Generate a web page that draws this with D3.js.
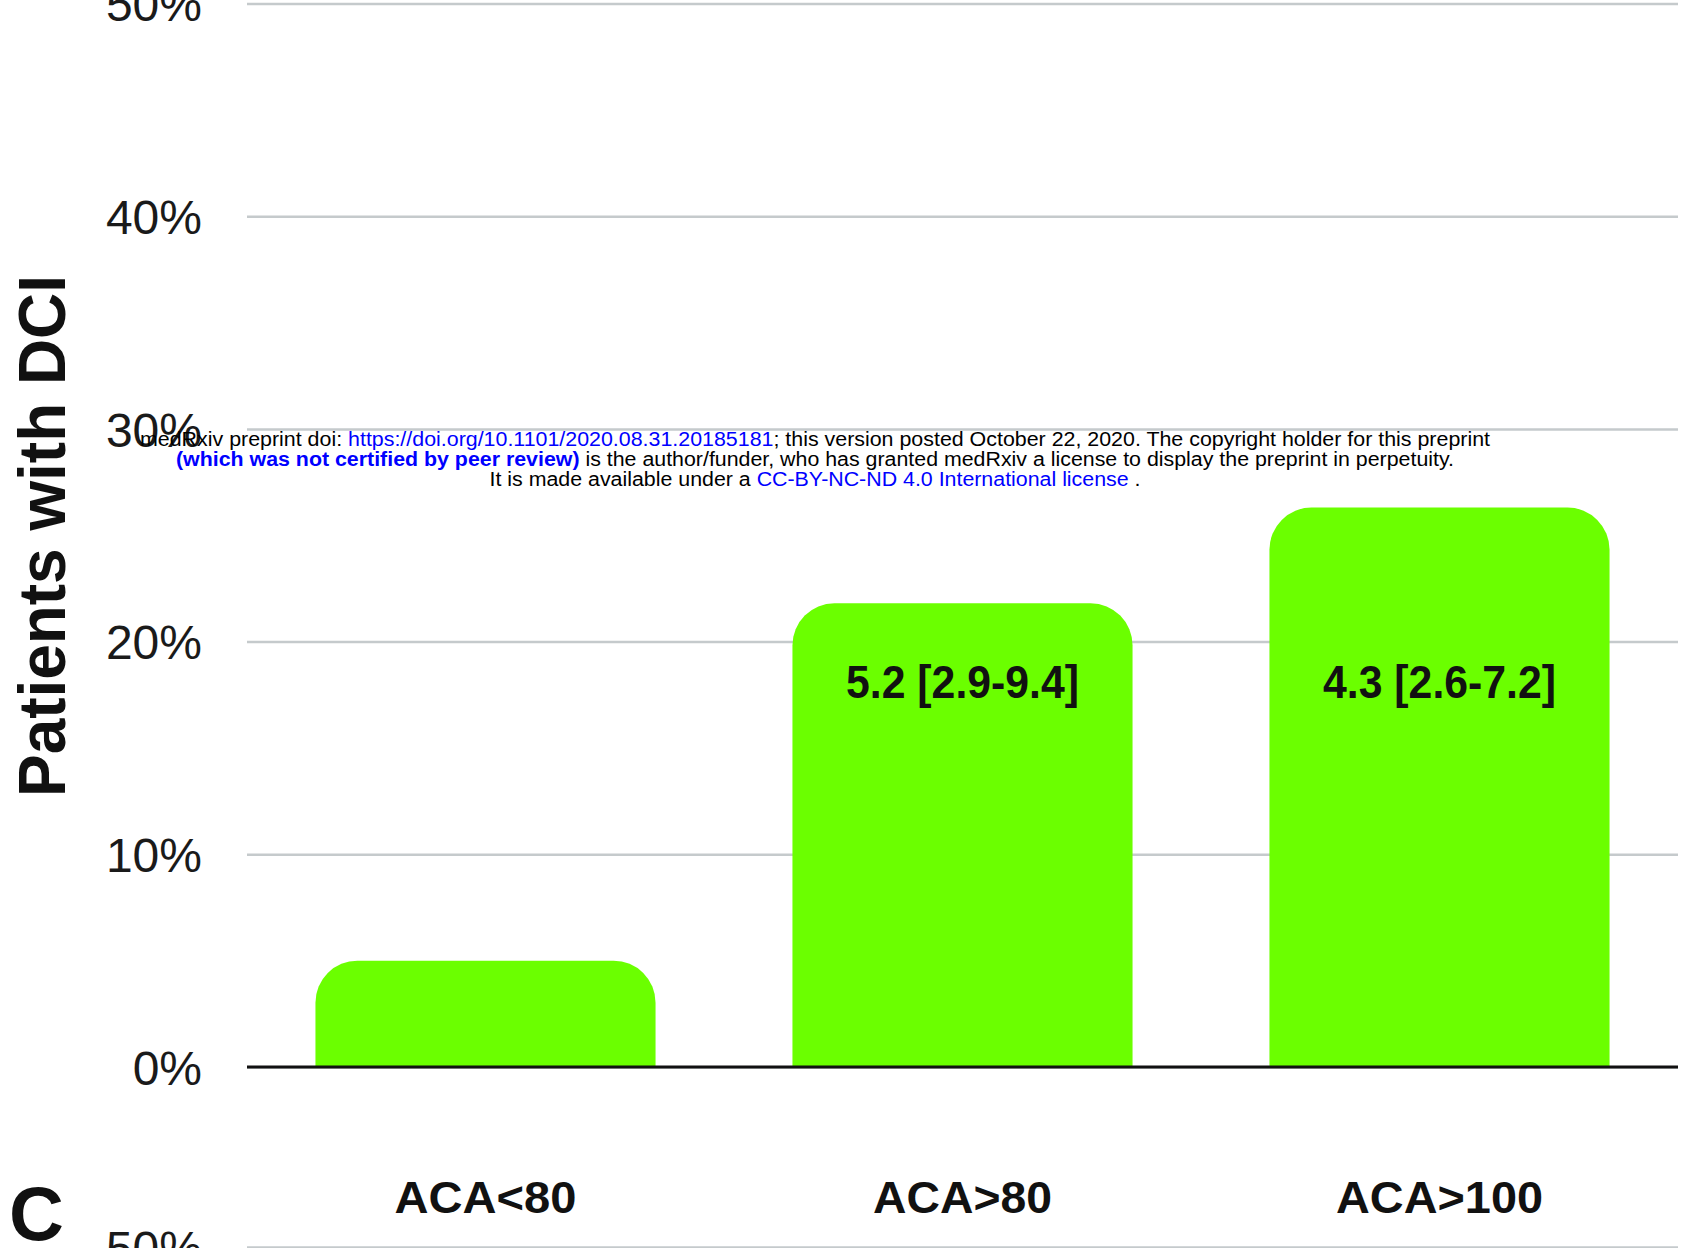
<!DOCTYPE html>
<html>
<head>
<meta charset="utf-8">
<script src="https://cdn.jsdelivr.net/npm/d3@7"></script>
<style>
  html, body { margin: 0; padding: 0; background: #ffffff; }
  svg { display: block; }
  text { font-family: "Liberation Sans", Arial, Helvetica, sans-serif; }
</style>
</head>
<body>
<svg id="chart" width="1694" height="1248"></svg>
<script>
// ---- data ----
const categories = ["ACA<80", "ACA>80", "ACA>100"];
const values = [5.0, 21.8, 26.3];               // % patients with DCI
const barLabels = ["", "5.2 [2.9-9.4]", "4.3 [2.6-7.2]"];
const yTicks = [0, 10, 20, 30, 40, 50];
const yTitle = "Patients with DCI";
const nextPanelLetter = "C";
const nextPanelTicks = [50];
const watermark = [
  [["medRxiv preprint doi: ", "#000", "normal"], ["https://doi.org/10.1101/2020.08.31.20185181", "#0000ff", "normal"], ["; this version posted October 22, 2020. The copyright holder for this preprint", "#000", "normal"]],
  [["(which was not certified by peer review)", "#0000ff", "bold"], [" is the author/funder, who has granted medRxiv a license to display the preprint in perpetuity.", "#000", "normal"]],
  [["It is made available under a ", "#000", "normal"], ["CC-BY-NC-ND 4.0 International license", "#0000ff", "normal"], [" .", "#000", "normal"]]
];

// ---- layout ----
const svg = d3.select("#chart");
const left = 247, right = 1678;
const y0 = 1067, y50 = 3.5;

const x = d3.scaleBand().domain(categories).range([left, right])
  .paddingInner(0.287).paddingOuter(0.1435);
const y = d3.scaleLinear().domain([0, 50]).range([y0, y50]);

// grid + tick labels
const yAxis = d3.axisLeft(y).tickValues(yTicks)
  .tickSize(-(right - left)).tickPadding(45)
  .tickFormat(d => d + "%");
const gAxis = svg.append("g").attr("transform", `translate(${left},0)`).call(yAxis);
gAxis.select(".domain").remove();
gAxis.selectAll(".tick line").attr("stroke", "#c5cacc").attr("stroke-width", 2.5);
gAxis.selectAll(".tick text").attr("fill", "#1a1a1a").style("font-size", "48px")
  .attr("dy", "0.36em");

// bars with rounded top corners
function roundedTop(bx, by, w, h, r) {
  r = Math.min(r, h, w / 2);
  return `M${bx},${by + h}V${by + r}A${r},${r} 0 0 1 ${bx + r},${by}H${bx + w - r}A${r},${r} 0 0 1 ${bx + w},${by + r}V${by + h}Z`;
}
const data = categories.map((c, i) => ({ c, v: values[i], label: barLabels[i] }));
svg.append("g").selectAll("path").data(data).join("path")
  .attr("d", d => roundedTop(x(d.c), y(d.v), x.bandwidth(), y(0) - y(d.v), 42))
  .attr("fill", "#6bff00");

// baseline
svg.append("line").attr("x1", left).attr("x2", right).attr("y1", y(0)).attr("y2", y(0))
  .attr("stroke", "#111").attr("stroke-width", 3);

// bar value labels
svg.append("g").selectAll("text").data(data.filter(d => d.label)).join("text")
  .attr("x", d => x(d.c) + x.bandwidth() / 2)
  .attr("y", y(18.15))
  .attr("dy", "0.36em")
  .attr("text-anchor", "middle")
  .attr("font-weight", "bold")
  .style("font-size", "46px")
  .attr("textLength", 233).attr("lengthAdjust", "spacingAndGlyphs")
  .attr("fill", "#111")
  .text(d => d.label);

// category labels
const catWidths = { "ACA<80": 182, "ACA>80": 179, "ACA>100": 207 };
svg.append("g").selectAll("text").data(categories).join("text")
  .attr("x", d => x(d) + x.bandwidth() / 2)
  .attr("y", 1213)
  .attr("text-anchor", "middle")
  .attr("font-weight", "bold")
  .style("font-size", "44px")
  .attr("textLength", d => catWidths[d]).attr("lengthAdjust", "spacingAndGlyphs")
  .attr("fill", "#111")
  .text(d => d);

// y title
svg.append("text")
  .attr("transform", `translate(65,536) rotate(-90)`)
  .attr("text-anchor", "middle")
  .attr("font-weight", "bold")
  .style("font-size", "66px")
  .attr("textLength", 522).attr("lengthAdjust", "spacingAndGlyphs")
  .attr("fill", "#111")
  .text(yTitle);

// next panel (C) start
const yC = d3.scaleLinear().domain([0, 50]).range([1247 + (y0 - y50), 1247]);
const gC = svg.append("g").attr("transform", `translate(${left},0)`)
  .call(d3.axisLeft(yC).tickValues(nextPanelTicks).tickSize(-(right - left)).tickPadding(45).tickFormat(d => d + "%"));
gC.select(".domain").remove();
gC.selectAll(".tick line").attr("stroke", "#c5cacc").attr("stroke-width", 2.5);
gC.selectAll(".tick text").attr("fill", "#1a1a1a").style("font-size", "48px").attr("dy", "0.36em");
svg.append("text").attr("x", 9).attr("y", 1240)
  .attr("font-weight", "bold").style("font-size", "76px").attr("fill", "#111")
  .text(nextPanelLetter);

// watermark
const wmY = [446, 466, 486];
const wmLen = [1350, 1278, 651];
watermark.forEach((line, i) => {
  const t = svg.append("text").attr("x", 815).attr("y", wmY[i])
    .attr("text-anchor", "middle").style("font-size", "19.5px")
    .attr("textLength", wmLen[i]).attr("lengthAdjust", "spacingAndGlyphs");
  line.forEach(([s, col, fw]) => {
    t.append("tspan").attr("fill", col).attr("font-weight", fw).text(s);
  });
});
</script>
</body>
</html>
